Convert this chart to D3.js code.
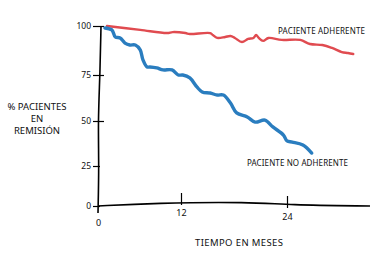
<!DOCTYPE html>
<html>
<head>
<meta charset="utf-8">
<script src="https://cdn.jsdelivr.net/npm/d3@7"></script>
<style>
  body { margin: 0; background: #fff; }
  text { font-family: "Noto Sans", sans-serif; fill: #111; }
</style>
</head>
<body>
<svg id="chart" width="370" height="261"></svg>
<script>
// months since start, % patients in remission
var adherente = [[1.3,100],[6.1,98],[10,96.4],[10.8,96.9],[12.5,96.4],[13,95.9],[15.3,96.4],[15.6,95.4],
  [16.1,93.9],[17,94.4],[17.6,94.9],[18.1,93.9],[18.9,91.8],[19.6,93.4],[20.2,93.9],[20.5,95.4],[20.8,93.9],
  [21.3,92.4],[21.9,93.9],[23.4,92.9],[25.5,92.9],[26.6,90.8],[28,90.3],[29.1,88.8],[30.2,86.7],[30.9,86.2],[31.5,85.7]];

var noAdherente = [[1,99],[2,98],[2.5,94.4],[3.2,93.9],[3.9,91.3],[4.6,90.3],[5.4,90.3],[6.1,87.8],[6.5,82.7],
  [7.1,79.1],[7.5,79.1],[8.5,78.6],[9.4,77.6],[10.7,77.6],[11.6,75],[12.2,75],[13,73.4],[13.8,68.5],[14.4,65.8],
  [15.3,65.2],[16.1,64.1],[16.8,64.1],[17.6,59.8],[18.3,54.4],[19.5,52.2],[20.4,49.4],[21.5,50.5],[22.4,46.7],
  [23.6,42.2],[24,38.9],[24.6,38.3],[25.8,36.7],[26.8,32.2]];

var xTicks = [0, 12, 24];
var yTicks = [0, 25, 50, 75, 100];
var labels = ["PACIENTE ADHERENTE", "PACIENTE NO ADHERENTE"];
var yTitle = ["% PACIENTES", "EN", "REMISIÓN"];
var xTitle = "TIEMPO EN MESES";

var svg = d3.select("#chart");

// hand drawn axes are not evenly spaced, so the scales are polylinear
var x = d3.scaleLinear().domain(xTicks).range([98, 181, 287]);
var y = d3.scaleLinear().domain(yTicks).range([206, 166, 121, 75, 26]);

var line = d3.line().x(d => x(d[0])).y(d => y(d[1])).curve(d3.curveCatmullRom.alpha(0.5));

// x axis
var gx = svg.append("g").attr("transform", "translate(0," + y(0) + ")")
  .call(d3.axisBottom(x).tickValues(xTicks).tickSize(0).tickPadding(8).tickFormat(d3.format("d")));
gx.select(".domain").remove();
gx.append("path").attr("d", d3.line().curve(d3.curveBasis)([[x(0),0],[x(8),-3],[x(20),-4],[x(24),-1],[370,0]]))
  .attr("stroke", "#000").attr("stroke-width", 1.6).attr("fill", "none");
gx.selectAll(".tick line").remove();
gx.selectAll(".tick").filter(d => d > 0).append("line")
  .attr("y1", -9).attr("y2", 3).attr("stroke", "#000").attr("stroke-width", 1.2)
  .attr("transform", d => "translate(0," + (d == 12 ? -4 : -1) + ")");
gx.selectAll(".tick text").attr("font-size", 9).attr("dy", d => d == 0 ? "1.3em" : d == 12 ? "0.2em" : "0.7em");

// y axis
var gy = svg.append("g").attr("transform", "translate(99,0)")
  .call(d3.axisLeft(y).tickValues(yTicks).tickSize(0).tickPadding(8));
gy.select(".domain").remove();
gy.append("path").attr("d", d3.line().curve(d3.curveBasis)([[2,y(100)],[1,y(75)],[-1,y(50)],[0,y(25)],[-1,213]]))
  .attr("stroke", "#000").attr("stroke-width", 1.6).attr("fill", "none");
gy.selectAll(".tick line").remove();
gy.selectAll(".tick").append("line")
  .attr("x1", -6).attr("x2", d => d < 50 ? 1 : 5).attr("stroke", "#000").attr("stroke-width", 1.2);
gy.selectAll(".tick text").attr("font-size", 8.5);

// series
svg.append("path").datum(adherente).attr("d", line)
  .attr("fill", "none").attr("stroke", "#e04b50").attr("stroke-width", 2.4).attr("stroke-linecap", "round");
svg.append("path").datum(noAdherente).attr("d", line)
  .attr("fill", "none").attr("stroke", "#2a7dbf").attr("stroke-width", 3.4).attr("stroke-linecap", "round");

// annotations
svg.append("text").attr("x", 278).attr("y", 34).attr("font-size", 8).attr("textLength", 87).text(labels[0]);
svg.append("text").attr("x", 247).attr("y", 166).attr("font-size", 8).attr("textLength", 101).text(labels[1]);

svg.append("text").attr("x", 239).attr("y", 246).attr("font-size", 9.5).attr("text-anchor", "middle")
  .attr("textLength", 88).text(xTitle);

svg.selectAll(".ytitle").data(yTitle).enter().append("text")
  .attr("x", 37).attr("y", (d, i) => 110 + i * 12).attr("font-size", 9.5).attr("text-anchor", "middle")
  .text(d => d);
</script>
</body>
</html>
